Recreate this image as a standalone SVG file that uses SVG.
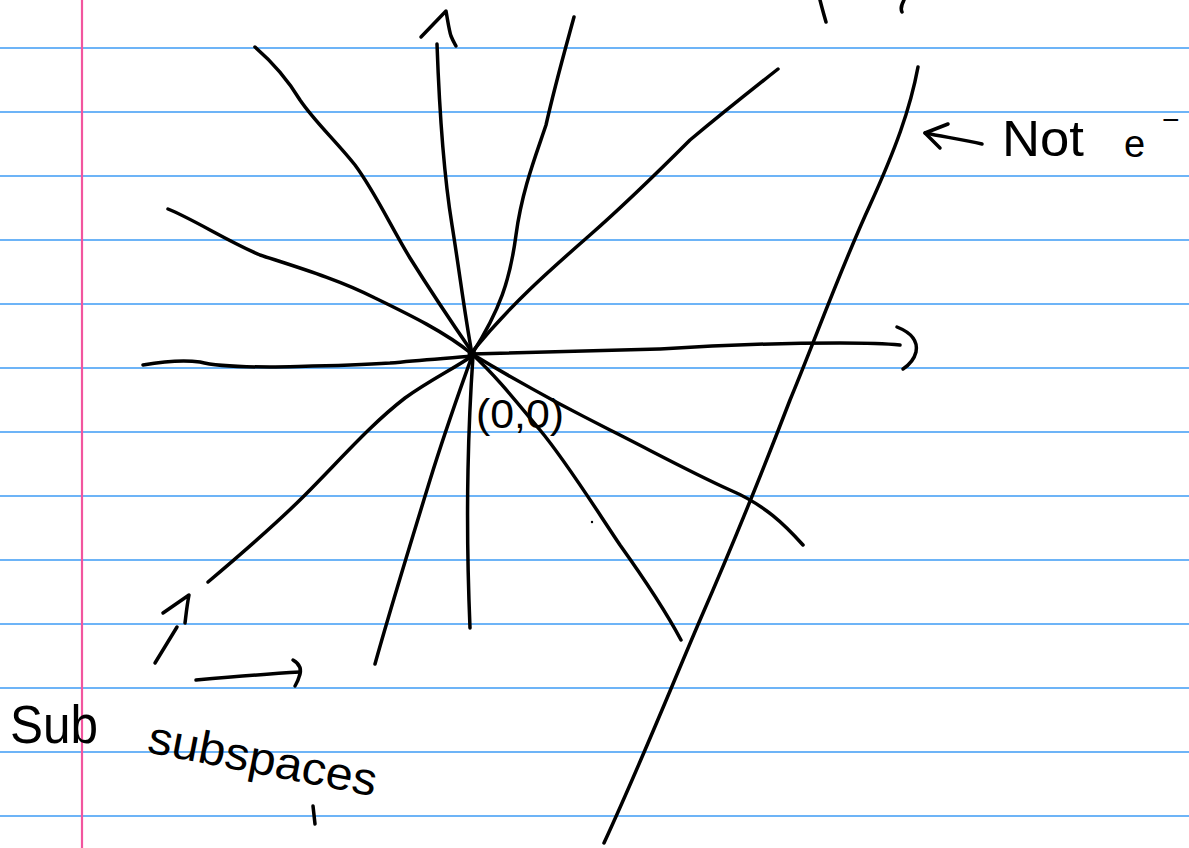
<svg xmlns="http://www.w3.org/2000/svg" width="1189" height="848" viewBox="0 0 1189 848">
<style>
.rule{stroke:#3d9bf5;stroke-width:1.6}
.margin{stroke:#f2559e;stroke-width:2.2}
.ink{fill:none;stroke:#000;stroke-width:3.5;stroke-linecap:round;stroke-linejoin:round}
.hand{font-family:"Liberation Sans",Arial,sans-serif;fill:#000}
</style>
<rect width="1189" height="848" fill="#fff"/>
<g id="paper">
<line class="rule" x1="0" y1="48" x2="1189" y2="48"/>
<line class="rule" x1="0" y1="112" x2="1189" y2="112"/>
<line class="rule" x1="0" y1="176" x2="1189" y2="176"/>
<line class="rule" x1="0" y1="240" x2="1189" y2="240"/>
<line class="rule" x1="0" y1="304" x2="1189" y2="304"/>
<line class="rule" x1="0" y1="368" x2="1189" y2="368"/>
<line class="rule" x1="0" y1="432" x2="1189" y2="432"/>
<line class="rule" x1="0" y1="496" x2="1189" y2="496"/>
<line class="rule" x1="0" y1="560" x2="1189" y2="560"/>
<line class="rule" x1="0" y1="624" x2="1189" y2="624"/>
<line class="rule" x1="0" y1="688" x2="1189" y2="688"/>
<line class="rule" x1="0" y1="752" x2="1189" y2="752"/>
<line class="rule" x1="0" y1="816" x2="1189" y2="816"/>
<line class="margin" x1="82" y1="0" x2="82" y2="848"/>
</g>
<g id="connectors">
<path class="ink" d="M143,365 C160,362 180,359 200,362 C215,366 240,367 270,367 C310,366 345,366 390,363 C420,360 450,358 472,356"/>
<path class="ink" d="M472,354 C540,352 600,351 660,349 C720,345 780,343 840,343 C870,343 890,344 900,345"/>
<path class="ink" d="M897,327 C912,333 918,342 916,352 C914,360 909,365 903,369"/>
<path class="ink" d="M255,47 C270,60 285,75 300,100 C315,122 335,140 355,165 C375,192 390,225 410,258 C430,290 450,320 472,352"/>
<path class="ink" d="M437,44 C439,100 443,170 452,225 C460,275 464,310 472,354"/>
<path class="ink" d="M421,37 L446,11 C448,22 449,30 451,36 C453,41 455,44 456,46"/>
<path class="ink" d="M574,17 C565,50 555,85 546,125 C536,155 522,190 516,235 C510,280 500,310 472,354"/>
<path class="ink" d="M778,69 C745,95 720,115 690,140 C660,170 630,200 590,235 C550,270 510,305 472,352"/>
<path class="ink" d="M168,209 C195,220 225,240 260,255 C300,268 340,280 375,298 C410,315 445,332 472,354"/>
<path class="ink" d="M208,582 C240,555 275,525 305,495 C340,460 370,425 405,398 C430,380 455,368 472,356"/>
<path class="ink" d="M155,663 L177,627"/>
<path class="ink" d="M163,613 L189,595 C187,605 186,615 185,623"/>
<path class="ink" d="M375,664 C390,610 410,545 430,480 C447,425 460,390 472,356"/>
<path class="ink" d="M470,628 C468,580 467,520 468,470 C469,420 471,385 473,356"/>
<path class="ink" d="M681,640 C665,610 645,580 620,545 C590,500 565,460 540,430 C515,400 495,375 472,354"/>
<path class="ink" d="M803,545 C785,525 765,505 730,490 C690,472 650,450 610,430 C560,405 515,380 472,354"/>
<path class="ink" d="M196,680 C230,677 265,674 300,672"/>
<path class="ink" d="M293,660 C300,664 302,670 299,677 C298,681 296,684 295,686"/>
<path class="ink" d="M918,67 C910,110 895,150 870,205 C840,270 815,340 790,400 C765,465 735,540 700,620 C670,690 640,765 604,843"/>
<path class="ink" d="M820,0 C822,8 824,15 826,22"/>
<path class="ink" d="M904,0 C902,4 900,8 902,12"/>
<path class="ink" d="M948,124 L925,133 L940,148"/>
<path class="ink" d="M925,133 C945,137 965,140 982,144"/>
<circle cx="472" cy="354" r="4.5" fill="#000"/>
<circle cx="592" cy="522" r="1.2" fill="#000"/>
<path class="ink" d="M313,806 L315,824"/>
</g>
<g id="labels">
<text class="hand" x="476" y="428" font-size="40" textLength="88" lengthAdjust="spacingAndGlyphs">(0,0)</text>
<text class="hand" x="1002" y="156" font-size="50" textLength="82" lengthAdjust="spacingAndGlyphs">Not</text>
<text class="hand" x="1124" y="157" font-size="38">e</text>
<text class="hand" x="1162" y="130" font-size="30">−</text>
<text class="hand" x="10" y="743" font-size="54" textLength="88" lengthAdjust="spacingAndGlyphs">Sub</text>
<text class="hand" x="146" y="752" font-size="46" textLength="232" lengthAdjust="spacingAndGlyphs" transform="rotate(11 146 752)">subspaces</text>
</g>
</svg>
